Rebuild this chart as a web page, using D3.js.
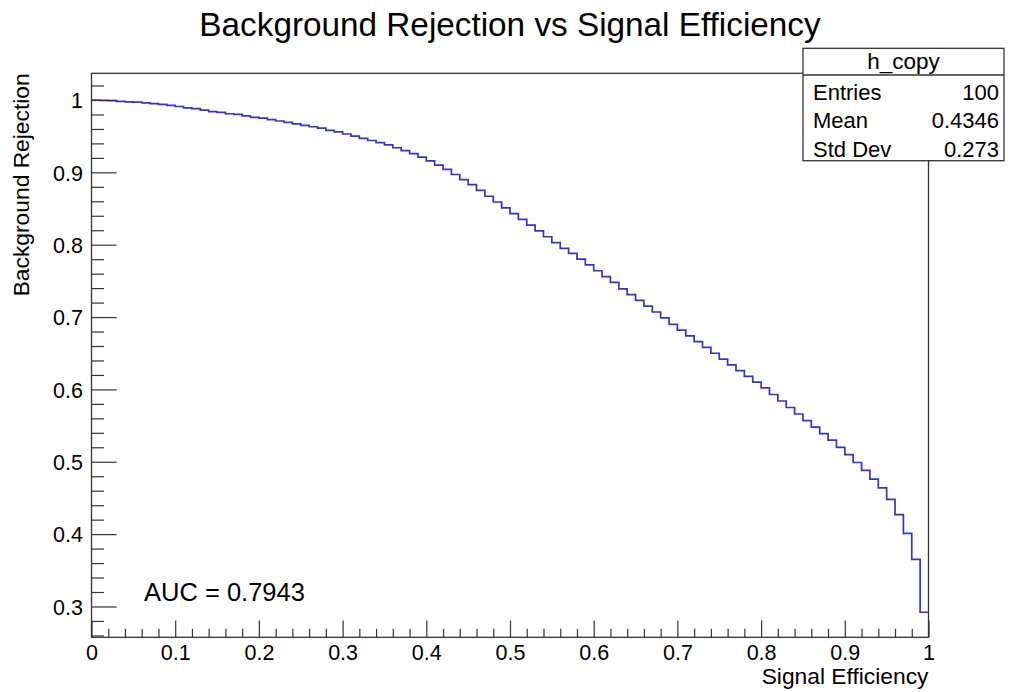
<!DOCTYPE html>
<html>
<head>
<meta charset="utf-8">
<script src="https://cdn.jsdelivr.net/npm/d3@7/dist/d3.min.js"></script>
<style>
  html, body { margin: 0; padding: 0; background: #fff; }
  svg { display: block; font-family: "Liberation Sans", Arial, Helvetica, sans-serif; }
</style>
</head>
<body>
<svg id="chart" width="1012" height="692"></svg>
<script>
// ROC curve histogram: 100 bins of background rejection over signal efficiency 0..1
const binCount = 100;
const rejection = [
  1.000, 0.9995, 0.999, 0.998, 0.9975, 0.997, 0.996, 0.995, 0.994, 0.9925,
  0.991, 0.989, 0.988, 0.986, 0.984, 0.983, 0.981, 0.980, 0.978, 0.976,
  0.975, 0.973, 0.971, 0.969, 0.967, 0.965, 0.963, 0.961, 0.958, 0.956,
  0.953, 0.950, 0.947, 0.944, 0.941, 0.938, 0.934, 0.930, 0.926, 0.921,
  0.916, 0.910, 0.904, 0.897, 0.890, 0.883, 0.875, 0.867, 0.859, 0.851,
  0.843, 0.835, 0.827, 0.819, 0.811, 0.803, 0.795, 0.788, 0.780, 0.772,
  0.764, 0.756, 0.748, 0.739, 0.731, 0.723, 0.715, 0.707, 0.699, 0.690,
  0.682, 0.674, 0.666, 0.658, 0.650, 0.642, 0.634, 0.626, 0.618, 0.610,
  0.602, 0.593, 0.584, 0.575, 0.566, 0.557, 0.548, 0.539, 0.530, 0.520,
  0.510, 0.499, 0.488, 0.476, 0.464, 0.448, 0.427, 0.401, 0.365, 0.292
];

const xTickValues = [0, 0.1, 0.2, 0.3, 0.4, 0.5, 0.6, 0.7, 0.8, 0.9, 1];
const xTickLabels = ["0", "0.1", "0.2", "0.3", "0.4", "0.5", "0.6", "0.7", "0.8", "0.9", "1"];
const yTickValues = [0.3, 0.4, 0.5, 0.6, 0.7, 0.8, 0.9, 1];
const yTickLabels = ["0.3", "0.4", "0.5", "0.6", "0.7", "0.8", "0.9", "1"];
const xDomain = [0, 1];
const yDomain = [0.2574, 1.0369];

const statsTitle = "h_copy";
const statsNames = ["Entries", "Mean", "Std Dev"];
const statsValues = ["100", "0.4346", "0.273"];
const aucLabel = "AUC = 0.7943";

const chartTitle = "Background Rejection vs Signal Efficiency";
const xTitle = "Signal Efficiency";
const yTitle = "Background Rejection";

// frame geometry
const frame = { left: 91.5, right: 928.5, top: 73.3, bottom: 637.3 };
const fw = frame.right - frame.left, fh = frame.bottom - frame.top;

const svg = d3.select("#chart");
const x = d3.scaleLinear().domain(xDomain).range([frame.left, frame.right]);
const y = d3.scaleLinear().domain(yDomain).range([frame.bottom, frame.top]);

const axisColor = "#333";
const tickFont = 21.5;

// minor tick positions (every 0.02) inside the axis ranges
const xMinor = d3.range(0, 51).map(k => k * 0.02).filter(v => Math.abs(v * 10 - Math.round(v * 10)) > 1e-6);
const yMinor = d3.range(13, 52).map(k => k * 0.02).filter(v => v >= yDomain[0] && v <= yDomain[1] && Math.abs(v * 10 - Math.round(v * 10)) > 1e-6);

// histogram outline (step)
const pts = rejection.map((v, i) => [i / binCount, v]);
pts.push([1, rejection[binCount - 1]]);
const line = d3.line().x(d => x(d[0])).y(d => y(d[1])).curve(d3.curveStepAfter);

svg.append("path")
  .attr("d", line(pts))
  .attr("fill", "none")
  .attr("stroke", "#3434c8")
  .attr("stroke-width", 1.7);

// x axis: major + minor ticks pointing into the frame
const gx = svg.append("g").attr("transform", `translate(0,${frame.bottom})`);
gx.call(d3.axisBottom(x).tickValues(xTickValues).tickSize(-0.03 * fh).tickPadding(7.5)
  .tickFormat((d, i) => xTickLabels[i]));
const gxm = svg.append("g").attr("transform", `translate(0,${frame.bottom})`);
gxm.call(d3.axisBottom(x).tickValues(xMinor).tickSize(-0.015 * fh).tickFormat(""));

// y axis
const gy = svg.append("g").attr("transform", `translate(${frame.left},0)`);
gy.call(d3.axisLeft(y).tickValues(yTickValues).tickSize(-0.03 * fw).tickPadding(8.5)
  .tickFormat((d, i) => yTickLabels[i]));
const gym = svg.append("g").attr("transform", `translate(${frame.left},0)`);
gym.call(d3.axisLeft(y).tickValues(yMinor).tickSize(-0.015 * fw).tickFormat(""));

[gx, gxm, gy, gym].forEach(g => {
  g.select(".domain").remove();
  g.selectAll(".tick line").attr("stroke", axisColor).attr("stroke-width", 1.2);
  g.selectAll(".tick text").attr("fill", "#000").style("font-size", tickFont + "px")
    .style("font-family", "'Liberation Sans', Arial, sans-serif");
});
gy.selectAll(".tick text").attr("dy", "0.36em");

// frame box
svg.append("rect")
  .attr("x", frame.left).attr("y", frame.top)
  .attr("width", fw).attr("height", fh)
  .attr("fill", "none").attr("stroke", axisColor).attr("stroke-width", 1.3);

// titles
svg.append("text").attr("x", 510).attr("y", 36).attr("text-anchor", "middle")
  .style("font-size", "33.3px").text(chartTitle);
svg.append("text").attr("x", frame.right).attr("y", 684).attr("text-anchor", "end")
  .style("font-size", "22.8px").text(xTitle);
svg.append("text").attr("transform", `translate(29,${frame.top}) rotate(-90)`)
  .attr("text-anchor", "end").style("font-size", "22.8px").text(yTitle);

// AUC annotation
svg.append("text").attr("x", 144).attr("y", 601).style("font-size", "25.5px").text(aucLabel);

// statistics box
const box = { left: 803, right: 1004, top: 48.3, sep: 75, bottom: 160.7 };
const gs = svg.append("g");
gs.append("rect").attr("x", box.left).attr("y", box.top)
  .attr("width", box.right - box.left).attr("height", box.bottom - box.top)
  .attr("fill", "#fff").attr("stroke", axisColor).attr("stroke-width", 1.3);
gs.append("line").attr("x1", box.left).attr("x2", box.right).attr("y1", box.sep).attr("y2", box.sep)
  .attr("stroke", axisColor).attr("stroke-width", 1.3);
gs.append("text").attr("x", (box.left + box.right) / 2).attr("y", 68.5).attr("text-anchor", "middle")
  .style("font-size", "22.5px").text(statsTitle);
const rowBase = [99.5, 128, 156.5];
statsNames.forEach((n, i) => {
  gs.append("text").attr("x", box.left + 10).attr("y", rowBase[i]).style("font-size", "22px").text(n);
  gs.append("text").attr("x", box.right - 5).attr("y", rowBase[i]).attr("text-anchor", "end")
    .style("font-size", "22px").text(statsValues[i]);
});
</script>
</body>
</html>
